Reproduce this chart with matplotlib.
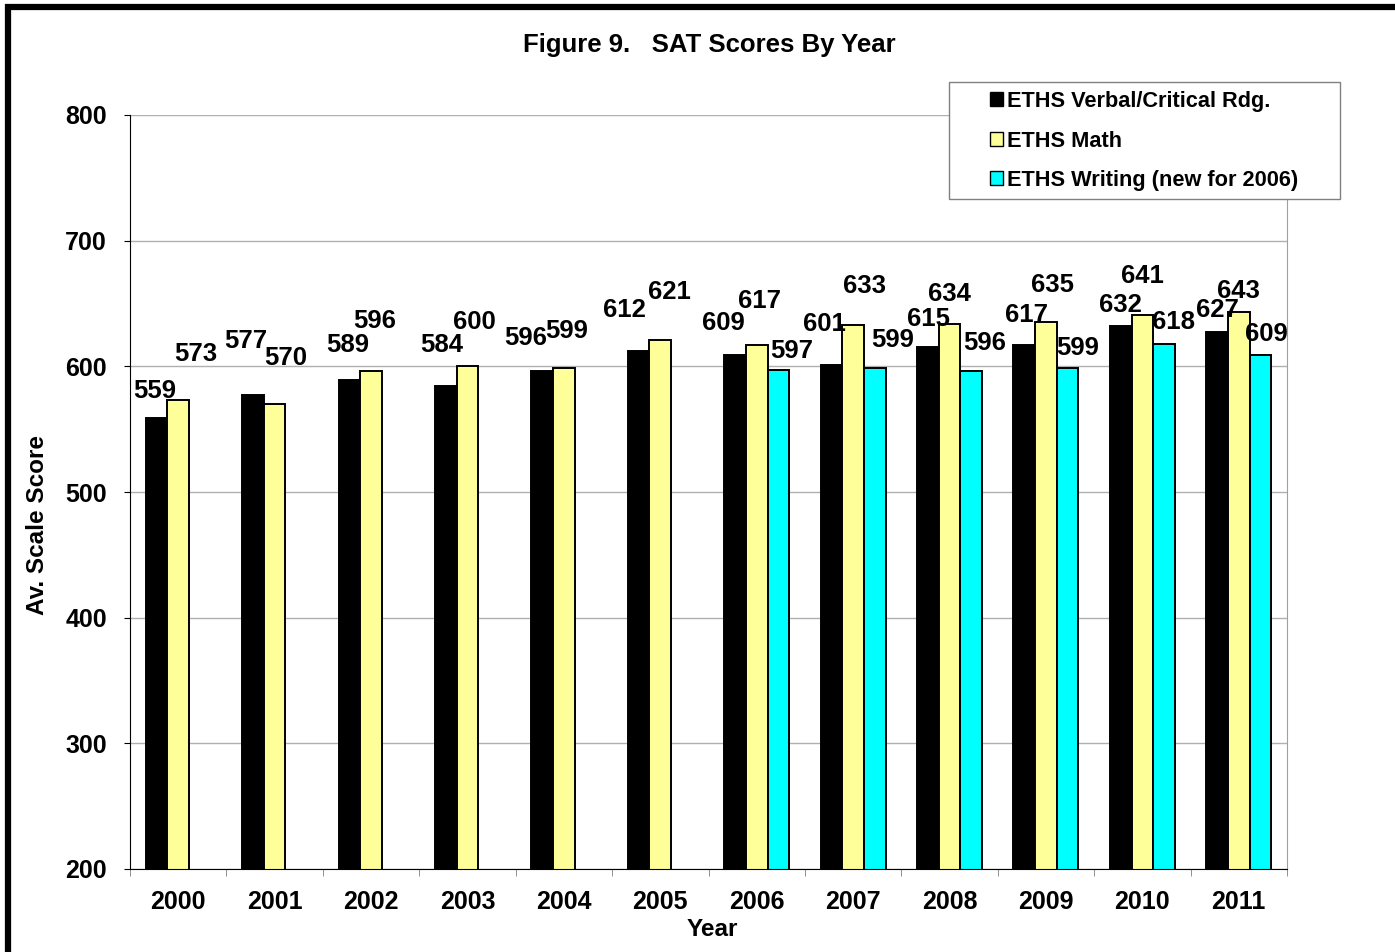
import numpy as np
import matplotlib
matplotlib.use('Agg')
import matplotlib.pyplot as plt
from matplotlib.patches import Rectangle

plt.rcParams['font.family'] = ['Liberation Sans', 'DejaVu Sans']
plt.rcParams['font.weight'] = 'bold'

# Data
years = ['2000', '2001', '2002', '2003', '2004', '2005',
         '2006', '2007', '2008', '2009', '2010', '2011']
verbal = [559, 577, 589, 584, 596, 612, 609, 601, 615, 617, 632, 627]
math_scores = [573, 570, 596, 600, 599, 621, 617, 633, 634, 635, 641, 643]
writing = [None, None, None, None, None, None, 597, 599, 596, 599, 618, 609]

series_names = ['ETHS Verbal/Critical Rdg.', 'ETHS Math', 'ETHS Writing (new for 2006)']
colors = ['#000000', '#FFFF99', '#00FFFF']

# label offsets (pixels, label centre relative to top of bar) - the original has them scattered
verbal_off = [(-1.5, 29), (-7, 57), (-2, 38), (-4, 44), (-17, 36), (-14, 44),
              (-12, 35), (-7, 44), (1, 31), (2, 32), (0, 24), (0, 25)]
math_off = [(18, 49), (11, 49), (4, 53), (6.5, 47), (3, 39), (9, 50),
            (3, 46), (11, 41), (0, 32), (7, 40), (0, 41), (0, 24)]
writing_off = [None] * 6 + [(13, 22), (18, 30), (13, 31), (10, 22), (9, 24), (6, 24)]

W, H = 1395, 952
fig = plt.figure(figsize=(W / 100, H / 100), dpi=100)
ax = fig.add_axes([130 / W, 1 - 869 / H, (1287 - 130) / W, (869 - 115) / H])

x = np.arange(len(years))
bw = 0.225

ax.bar(x - bw, verbal, bw, color=colors[0], edgecolor='black', linewidth=1.4, zorder=2)
ax.bar(x, math_scores, bw, color=colors[1], edgecolor='black', linewidth=1.4, zorder=2)
wx = [xi + bw for xi, v in zip(x, writing) if v is not None]
wv = [v for v in writing if v is not None]
ax.bar(wx, wv, bw, color=colors[2], edgecolor='black', linewidth=1.4, zorder=2)

# data labels
def put_labels(xs, vals, offs):
    for xi, v, off in zip(xs, vals, offs):
        if v is None:
            continue
        ax.annotate(str(v), xy=(xi, v), xytext=(off[0], off[1] - 9.5),
                    textcoords='offset pixels', ha='center', va='baseline',
                    fontsize=18.5, fontweight='bold', zorder=4, annotation_clip=False)

put_labels(x - bw, verbal, verbal_off)
put_labels(x, math_scores, math_off)
put_labels(x + bw, writing, writing_off)

ax.set_xlim(-0.5, len(years) - 0.5)
ax.set_ylim(200, 800)
ax.set_yticks(range(200, 801, 100))
ax.set_xticks(x)
ax.set_xticklabels(years)
ax.set_xticks(np.arange(-0.5, len(years), 1), minor=True)
ax.tick_params(axis='x', which='major', length=0, pad=15, labelsize=18)
ax.tick_params(axis='x', which='minor', length=5, color='#808080', direction='out')
ax.tick_params(axis='y', length=4.5, pad=12, labelsize=18, color='black')

ax.yaxis.grid(True, color='#b0b0b0', linewidth=1)
ax.set_axisbelow(True)
ax.spines['top'].set_visible(False)
ax.spines['right'].set_color('#a0a0a0')
ax.spines['left'].set_color('black')
ax.spines['bottom'].set_color('black')

ax.set_ylabel('Av. Scale Score', fontsize=17.5, fontweight='bold')
ax.yaxis.set_label_coords(-0.070, 0.456)
ax.set_xlabel('Year', fontsize=17.5, fontweight='bold')
ax.xaxis.set_label_coords(0.503, -0.065)

fig.text(709 / W, 1 - 45 / H, 'Figure 9.   SAT Scores By Year', ha='center', va='center',
         fontsize=18.5, fontweight='bold')

# legend box and entries
fig.add_artist(Rectangle((949 / W, 1 - 199 / H), (1340 - 949) / W, (199 - 82) / H,
                         transform=fig.transFigure, facecolor='white', edgecolor='#808080',
                         linewidth=1, zorder=3))
handles = [Rectangle((0, 0), 1, 1, facecolor=c, edgecolor='black', linewidth=1) for c in colors]
leg = fig.legend(handles, series_names, loc='upper left', bbox_to_anchor=(990 / W, 1 - 91 / H),
                 frameon=False, borderpad=0, borderaxespad=0, fontsize=15.7,
                 handlelength=0.6, handleheight=0.6, handletextpad=0.2, labelspacing=0.85)
leg.set_zorder(6)

# thick outer border (only top and left visible in the original crop)
fig.add_artist(Rectangle((8 / W, -0.1), 1.2, 1 - 7 / H + 0.1, transform=fig.transFigure,
                         fill=False, edgecolor='black', linewidth=4.5, zorder=10))

fig.savefig('out.png', dpi=100)
